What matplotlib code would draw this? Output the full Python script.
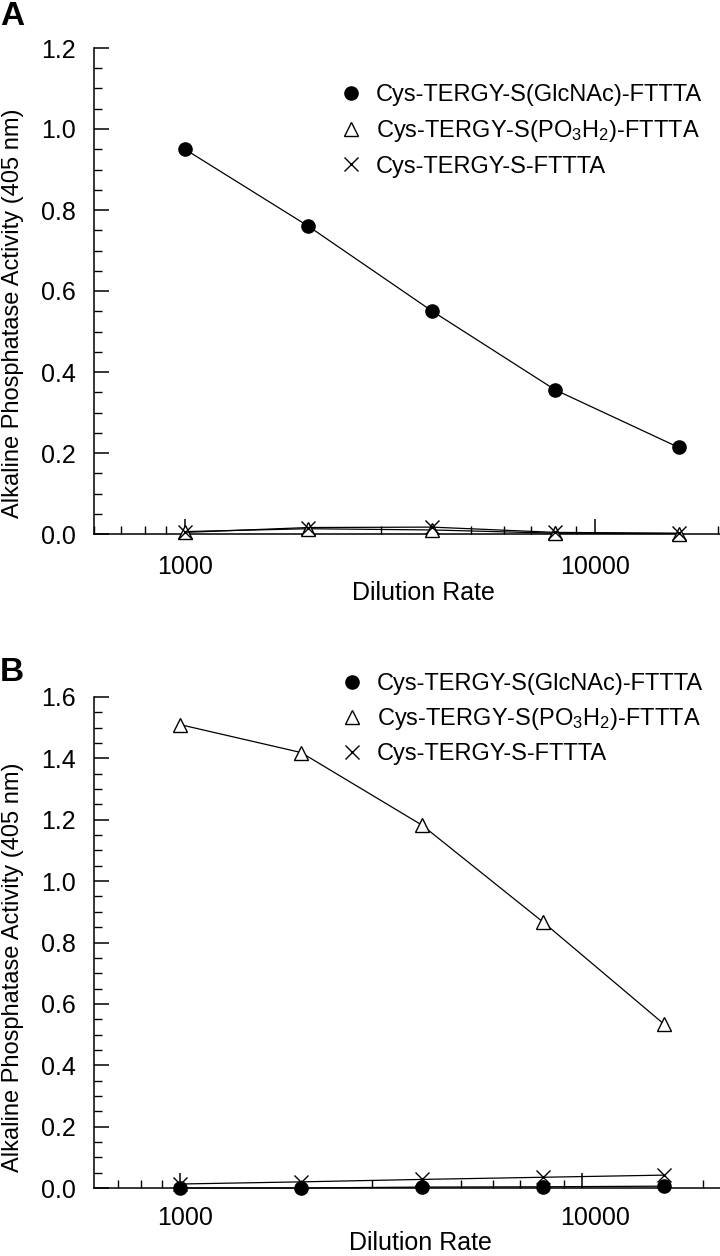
import matplotlib
matplotlib.use("Agg")
import matplotlib.pyplot as plt
from matplotlib.lines import Line2D
from matplotlib.transforms import ScaledTranslation
from matplotlib.ticker import LogLocator, FixedLocator, NullFormatter, MultipleLocator, FormatStrFormatter

plt.rcParams['font.family'] = ['Liberation Sans', 'DejaVu Sans']
plt.rcParams['mathtext.fontset'] = 'custom'
plt.rcParams['mathtext.rm'] = 'Liberation Sans'
plt.rcParams['mathtext.default'] = 'regular'

# ---- data ----
dilution = [1000, 2000, 4000, 8000, 16000]
labels = ['Cys-TERGY-S(GlcNAc)-FTTTA', r'Cys-TERGY-S(PO$_3$H$_2$)-FTTTA', 'Cys-TERGY-S-FTTTA']
x_title = 'Dilution Rate'
y_title = 'Alkaline Phosphatase Activity (405 nm)'

a_glcnac = [0.950, 0.760, 0.551, 0.356, 0.214]
a_phospho = [0.006, 0.013, 0.010, 0.002, 0.001]
a_plain = [0.004, 0.016, 0.017, 0.004, 0.002]

b_glcnac = [0.000, 0.000, 0.003, 0.004, 0.006]
b_phospho = [1.510, 1.419, 1.182, 0.866, 0.533]
b_plain = [0.013, 0.020, 0.028, 0.035, 0.042]

W, H = 720, 1256
fig = plt.figure(figsize=(W / 100, H / 100), dpi=100)


def fx(px):
    return px / W


def fy(py):
    return 1 - py / H


styles = [
    dict(marker='o', markersize=9.5, markerfacecolor='black', markeredgecolor='black'),
    dict(marker='^', markersize=9.5, markerfacecolor='white', markeredgecolor='black', markeredgewidth=1.0),
    dict(marker='x', markersize=10, markeredgecolor='black', markeredgewidth=1.0),
]


def make_panel(rect, xlim, ylim, series, letter, letter_xy, legend_xy, lspace, xpad,
               xlab_xy, ylab_xy, label_shift):
    ax = fig.add_axes(rect)
    for vals, st in zip(series, styles):
        ax.plot(dilution, vals, color='black', linewidth=0.9, clip_on=False, zorder=3, **st)
    ax.set_xscale('log')
    ax.set_xlim(*xlim)
    ax.set_ylim(*ylim)
    for s in ['top', 'right']:
        ax.spines[s].set_visible(False)
    for s in ['left', 'bottom']:
        ax.spines[s].set_linewidth(1.1)
    ax.xaxis.set_major_locator(FixedLocator([1000, 10000]))
    ax.xaxis.set_major_formatter(FormatStrFormatter('%d'))
    ax.xaxis.set_minor_locator(LogLocator(base=10, subs=range(2, 10), numticks=20))
    ax.xaxis.set_minor_formatter(NullFormatter())
    ax.yaxis.set_major_locator(MultipleLocator(0.2))
    ax.yaxis.set_major_formatter(FormatStrFormatter('%.1f'))
    ax.yaxis.set_minor_locator(MultipleLocator(0.05))
    ax.tick_params(which='major', direction='in', length=11, width=1.1, labelsize=18)
    ax.tick_params(which='minor', direction='in', length=5.5, width=1.0)
    ax.tick_params(axis='y', which='major', pad=13)
    ax.tick_params(axis='x', which='major', pad=xpad)
    if label_shift:
        for lab, dx in zip(ax.xaxis.get_majorticklabels(), label_shift):
            lab.set_transform(lab.get_transform() + ScaledTranslation(dx / 100, 0, fig.dpi_scale_trans))
    fig.text(fx(xlab_xy[0]), fy(xlab_xy[1]), x_title, fontsize=18, ha='center', va='center')
    fig.text(fx(ylab_xy[0]), fy(ylab_xy[1]), y_title, fontsize=17, ha='center', va='center',
             rotation=90)
    fig.text(fx(letter_xy[0]), fy(letter_xy[1]), letter, fontsize=24, fontweight='bold',
             ha='left', va='top')
    handles = [Line2D([], [], linestyle='none', color='black', **st) for st in styles]
    ax.legend(handles, labels, loc='upper left', bbox_to_anchor=(fx(legend_xy[0]), fy(legend_xy[1])),
              bbox_transform=fig.transFigure, frameon=False, fontsize=17, handlelength=1.0,
              handletextpad=0.56, labelspacing=lspace, borderaxespad=0, borderpad=0)
    return ax


# Panel A
make_panel([fx(94), fy(534), fx(720 - 94), (534 - 48) / H], (600, 20200), (0, 1.2),
           [a_glcnac, a_phospho, a_plain], 'A', (0, 1), (339, 84), 0.50, 15,
           (423, 593), (13, 313), None)
# Panel B
make_panel([fx(94), fy(1188), fx(720 - 94), (1188 - 697) / H], (611, 22000), (0, 1.6),
           [b_glcnac, b_phospho, b_plain], 'B', (0, 657), (340, 673), 0.47, 13,
           (420, 1243), (13, 967), (5, 13))

fig.savefig('out.png', dpi=100)
